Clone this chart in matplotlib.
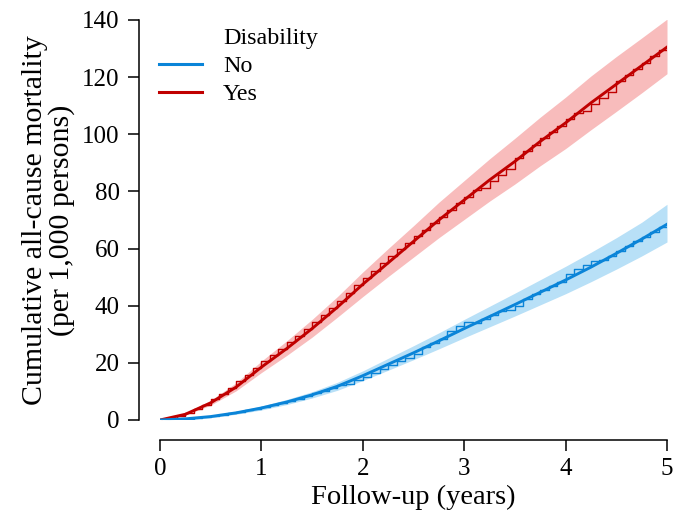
import matplotlib
matplotlib.use("Agg")
import matplotlib.pyplot as plt
from matplotlib.lines import Line2D
import numpy as np

plt.rcParams['font.family'] = ['Liberation Serif', 'DejaVu Serif']

# smooth cumulative mortality curves (per 1,000) at quarter-year grid
grid_t = [0, 0.25, 0.5, 0.75, 1.0, 1.25, 1.5, 1.75, 2.0, 2.25, 2.5,
          2.75, 3.0, 3.25, 3.5, 3.75, 4.0, 4.25, 4.5, 4.75, 5.0]
yes_fit = [0, 2, 6, 11.5, 18.5, 25, 32, 39.5, 47.5, 55, 62.5,
           70, 77, 84, 90.5, 97.5, 104, 111, 117.5, 124, 130.5]
yes_lo = [0, 1.7, 5.2, 10.2, 16.6, 22.6, 29, 36, 43.2, 50.2, 57,
          63.8, 70.2, 76.6, 82.6, 89, 95, 101.6, 108, 114.5, 121.2]
yes_hi = [0, 2.4, 6.9, 13, 20.6, 27.7, 35.2, 43.2, 51.8, 60, 68,
          76.2, 83.8, 91.4, 98.6, 106, 113, 120.4, 127.2, 133.7, 140.3]
no_fit = [0, 0.4, 1.2, 2.5, 4.2, 6.3, 8.8, 11.8, 15.5, 19.5, 23.5,
          27.7, 32, 36.2, 40.4, 44.7, 49, 53.5, 58.3, 63.3, 68.5]
no_lo = [0, 0.3, 0.9, 2.0, 3.5, 5.4, 7.7, 10.4, 13.8, 17.4, 21.1,
         24.9, 28.8, 32.6, 36.4, 40.3, 44.2, 48.4, 52.8, 57.4, 62.3]
no_hi = [0, 0.5, 1.5, 3.0, 4.9, 7.2, 9.9, 13.2, 17.2, 21.6, 26,
         30.5, 35.2, 39.8, 44.4, 49.1, 53.8, 58.7, 63.8, 69.2, 75.5]

# monthly Kaplan-Meier style step estimates
months = np.arange(0, 61) / 12
yes_step = [0, 0.6, 1.5, 2.6, 3.8, 5.3, 7.2, 9.2, 11.3, 13.5, 15.9,
            18.3, 20.6, 22.8, 24.9, 27.2, 29.5, 31.8, 34.3, 36.8, 39.3,
            41.8, 44.5, 47.2, 49.8, 52.3, 54.8, 57.3, 59.8, 62.1, 64.3,
            66.5, 68.8, 71.2, 73.5, 75.8, 78.2, 80.5, 81.3, 83.6, 85.8,
            87.9, 91.7, 94, 96.3, 98.6, 100.8, 102.9, 105.2, 107.5, 108.3,
            110.6, 112.8, 114.9, 118.6, 120.8, 122.9, 125.1, 127.3, 129.4, 130.5]
no_step = [0, 0.15, 0.3, 0.5, 0.8, 1.1, 1.4, 1.8, 2.3, 2.8, 3.4,
           3.9, 4.6, 5.3, 6.0, 6.7, 7.5, 8.4, 9.3, 10.3, 11.3,
           12.4, 12.6, 13.9, 15.2, 16.5, 17.8, 19.2, 20.5, 21.8, 23.2,
           25.6, 27.0, 28.4, 31.3, 32.8, 34.2, 34.1, 35.5, 36.9, 38.3,
           38.5, 39.9, 42.5, 44.0, 45.4, 46.8, 48.3, 51.2, 52.7, 54.2,
           55.8, 55.9, 57.5, 59.1, 60.8, 62.5, 64.2, 65.9, 67.6, 68.6]

blue = '#0a84d8'
red = '#c00000'
blue_band = '#b8e0f7'
red_band = '#f8bcbc'

fig = plt.figure(figsize=(6.73, 5.14), dpi=100)
ax = fig.add_axes([160 / 673, 94 / 514, 507 / 673, 400 / 514])

ax.fill_between(grid_t, yes_lo, yes_hi, color=red_band, lw=0)
ax.fill_between(grid_t, no_lo, no_hi, color=blue_band, lw=0)
ax.step(months, yes_step, where='post', color=red, lw=1.0)
ax.step(months, no_step, where='post', color=blue, lw=1.0)
ax.plot(grid_t, yes_fit, color=red, lw=2.1)
ax.plot(grid_t, no_fit, color=blue, lw=2.1)

ax.set_xlim(0, 5)
ax.set_ylim(0, 140)
ax.set_xticks(range(0, 6))
ax.set_yticks(range(0, 141, 20))
for s in ['top', 'right']:
    ax.spines[s].set_visible(False)
ax.spines['left'].set_position(('outward', 15))
ax.spines['bottom'].set_position(('outward', 14.5))
for s in ['left', 'bottom']:
    ax.spines[s].set_linewidth(1.1)
ax.spines['left'].set_bounds(0, 140)
ax.spines['bottom'].set_bounds(0, 5)
ax.tick_params(axis='both', direction='out', length=8, width=1.1, labelsize=18)
ax.tick_params(axis='y', pad=6)
ax.tick_params(axis='x', pad=5)

ax.set_xlabel('Follow-up (years)', fontsize=20.5, labelpad=3)
ax.set_ylabel('Cumulative all-cause mortality\n(per 1,000 persons)', fontsize=21.5,
              labelpad=5, linespacing=1.0)

handles = [Line2D([], [], color='none'),
           Line2D([], [], color=blue, lw=2.2),
           Line2D([], [], color=red, lw=2.2)]
ax.legend(handles, ['Disability', 'No', 'Yes'], loc='upper left',
          bbox_to_anchor=(-0.02, 1.005), frameon=False, fontsize=17.3,
          handlelength=1.75, handletextpad=0.9, labelspacing=0.25,
          borderaxespad=0)

fig.savefig('out.png', dpi=100)
